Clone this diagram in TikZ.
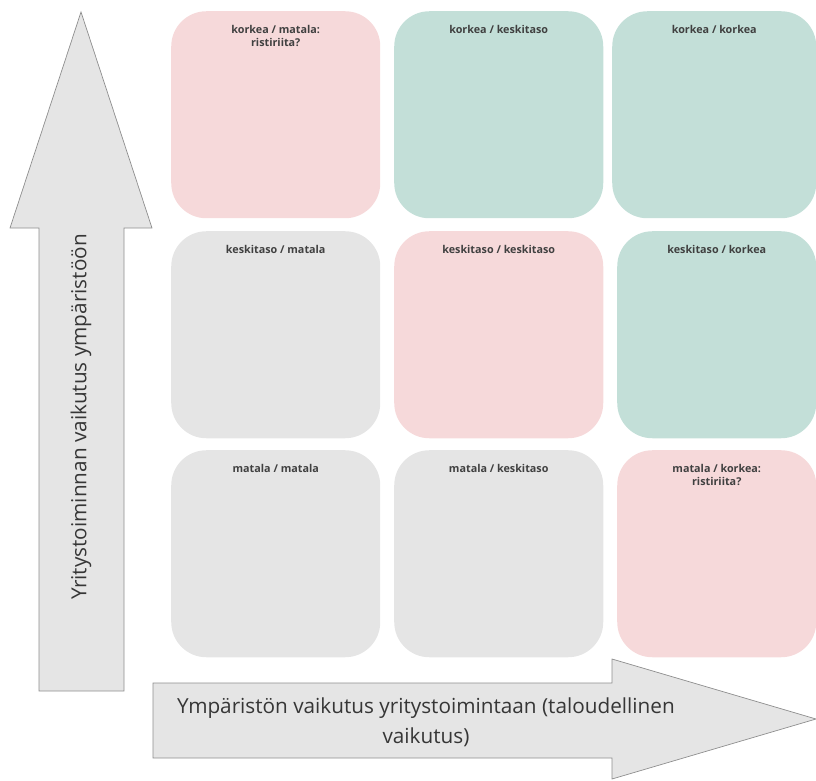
\documentclass[tikz,border=0pt]{standalone}
\usepackage{fontspec}
\setmainfont{Open Sans}
\usetikzlibrary{positioning}

\definecolor{punainen}{HTML}{F6D9DA}
\definecolor{vihrea}{HTML}{C3DFD8}
\definecolor{harmaa}{HTML}{E5E5E5}
\definecolor{reuna}{HTML}{8E8E8E}
\definecolor{teksti}{HTML}{404040}

\tikzset{
  ruutu/.style={anchor=north west, rounded corners=30pt, inner sep=0pt,
    minimum width=6.27cm, minimum height=6.21cm},
  otsikko/.style={font=\fontsize{9.2}{11.5}\selectfont\bfseries, text=teksti,
    align=center, inner sep=0pt},
  nuoli/.style={fill=harmaa, draw=reuna, line width=0.6pt, line join=miter},
  nuoliteksti/.style={font=\fontsize{17.7}{25.5}\selectfont, text=teksti!85!black, align=center}
}

\begin{document}
\begin{tikzpicture}[x=0.03cm, y=-0.03cm]
\useasboundingbox (0,0) rectangle (816,780);

% Ylärivi
\node[ruutu, fill=punainen] (km) at (171,11) {};
\node[ruutu, fill=vihrea] (kk) at (394,11) {};
\node[ruutu, fill=vihrea, minimum width=6.12cm] (kko) at (612,11) {};
\node[otsikko, below=0.42cm of km.north] (km-t) {korkea / matala:\\ristiriita?};
\node[otsikko, below=0.42cm of kk.north] (kk-t) {korkea / keskitaso};
\node[otsikko, below=0.42cm of kko.north] (kko-t) {korkea / korkea};

% Keskirivi
\node[ruutu, fill=harmaa] (km2) at (171,231) {};
\node[ruutu, fill=punainen] (kk2) at (394,231) {};
\node[ruutu, fill=vihrea, minimum width=5.97cm] (kko2) at (617,231) {};
\node[otsikko, below=0.42cm of km2.north] (km2-t) {keskitaso / matala};
\node[otsikko, below=0.42cm of kk2.north] (kk2-t) {keskitaso / keskitaso};
\node[otsikko, below=0.42cm of kko2.north] (kko2-t) {keskitaso / korkea};

% Alarivi
\node[ruutu, fill=harmaa] (mm) at (171,450) {};
\node[ruutu, fill=harmaa] (mk) at (394,450) {};
\node[ruutu, fill=punainen, minimum width=5.97cm] (mko) at (617,450) {};
\node[otsikko, below=0.42cm of mm.north] (mm-t) {matala / matala};
\node[otsikko, below=0.42cm of mk.north] (mk-t) {matala / keskitaso};
\node[otsikko, below=0.42cm of mko.north] (mko-t) {matala / korkea:\\ristiriita?};

% Pystynuoli
\draw[nuoli] (39,691) -- (39,228) -- (10,228) -- (81,12) -- (152,228) -- (124,228) -- (124,691) -- cycle;
\node[nuoliteksti, rotate=90] (ylos) at (81,417) {Yritystoiminnan vaikutus ympäristöön};

% Vaakanuoli
\draw[nuoli] (153,683) -- (612,683) -- (612,659) -- (816,719) -- (612,779) -- (612,758) -- (153,758) -- cycle;
\node[nuoliteksti] (oikealle) at (426,722) {Ympäristön vaikutus yritystoimintaan (taloudellinen\\vaikutus)};

\end{tikzpicture}
\end{document}
